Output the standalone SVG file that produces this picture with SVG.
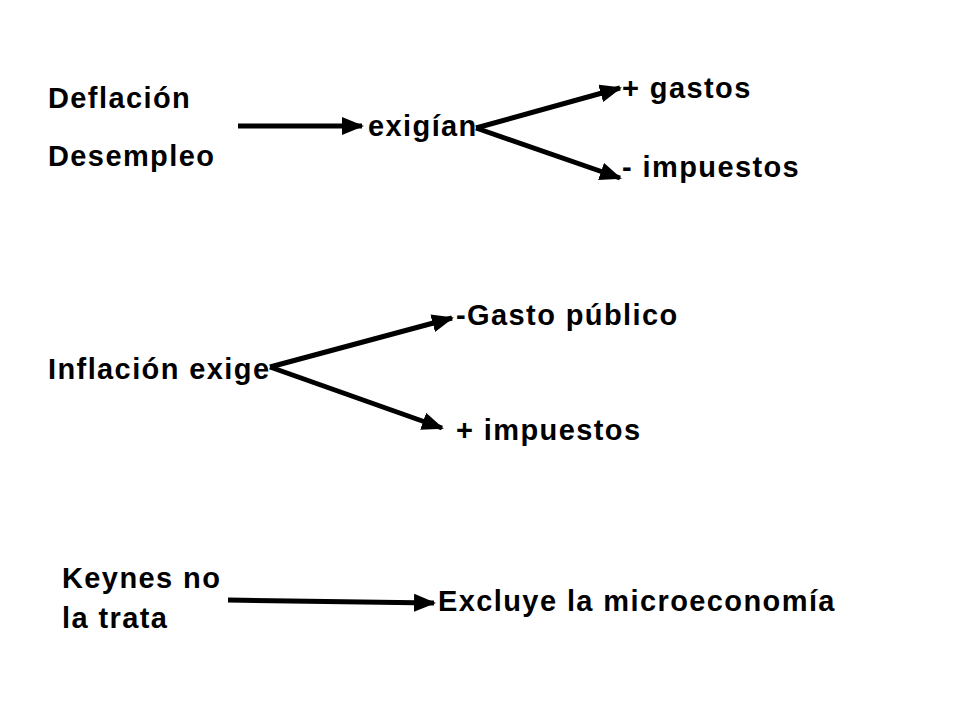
<svg xmlns="http://www.w3.org/2000/svg" width="960" height="720" viewBox="0 0 960 720">
<style>
text{font-family:"Liberation Sans",Arial,sans-serif;font-weight:bold;font-size:29px;letter-spacing:1.4px;fill:#000}
.c{stroke:#000;stroke-width:5;fill:none;marker-end:url(#a)}
</style>
<defs><marker id="a" markerUnits="userSpaceOnUse" markerWidth="22" markerHeight="18" refX="20" refY="9" orient="auto"><path d="M0,0 L22,9 L0,18 Z" fill="#000"/></marker></defs>
<rect width="960" height="720" fill="#fff"/>
<g id="connectors">
<line class="c" x1="238" y1="126" x2="362" y2="126"/>
<line class="c" x1="476" y1="128" x2="620" y2="88"/>
<line class="c" x1="476" y1="128" x2="620" y2="178"/>
<line class="c" x1="270" y1="367" x2="452" y2="318"/>
<line class="c" x1="270" y1="367" x2="442" y2="428"/>
<line class="c" x1="228" y1="600" x2="434" y2="603"/>
</g>
<g id="deflacion"><text x="48" y="108">Deflación</text><text x="48" y="166">Desempleo</text></g>
<g id="exigian"><text x="368" y="136">exigían</text></g>
<g id="gastos"><text x="622" y="98">+ gastos</text></g>
<g id="impuestos1"><text x="622" y="177">- impuestos</text></g>
<g id="inflacion"><text x="48" y="379">Inflación exige</text></g>
<g id="gasto"><text x="456" y="325">-Gasto público</text></g>
<g id="impuestos2"><text x="456" y="440">+ impuestos</text></g>
<g id="keynes"><text x="62" y="588">Keynes no</text><text x="62" y="628">la trata</text></g>
<g id="excluye"><text x="438" y="611">Excluye la microeconomía</text></g>
</svg>
